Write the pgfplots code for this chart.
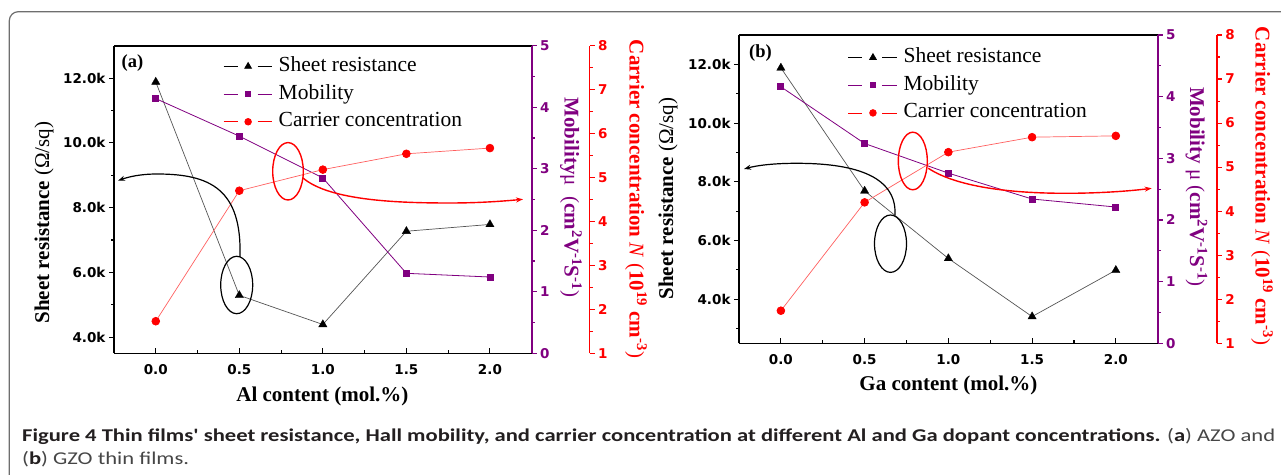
\documentclass[border=0pt]{standalone}
\usepackage{pgfplots}
\pgfplotsset{compat=1.18}
\usepackage{pgfplotstable}
\usepackage{fontspec}
\usepackage{graphicx}
\setmainfont{Liberation Serif}
\newfontfamily\tickfont{DejaVu Sans}
\newfontfamily\capfont{Carlito}
\usetikzlibrary{arrows.meta}
\definecolor{opurple}{RGB}{128,0,128}
\definecolor{ored}{RGB}{255,0,0}
\definecolor{sheetline}{RGB}{85,85,85}
\definecolor{carrline}{RGB}{255,95,95}
\definecolor{framegray}{RGB}{110,110,110}
\definecolor{capdark}{RGB}{35,31,32}
\definecolor{capgray}{RGB}{70,70,70}

\pgfplotstableread{
x sheet mob carr
0.0 11880 4.14 1.73
0.5 5290 3.53 4.70
1.0 4390 2.85 5.18
1.5 7270 1.30 5.54
2.0 7480 1.24 5.67
}\dataA
\pgfplotstableread{
x sheet mob carr
0.0 11880 4.16 1.74
0.5 7690 3.24 4.20
1.0 5390 2.76 5.34
1.5 3410 2.34 5.68
2.0 4990 2.21 5.71
}\dataB

\pgfplotsset{
  base/.style={scale only axis, anchor=south west,
    axis line style={line width=1.6pt},
    every tick/.style={line width=1.1pt},
    major tick length=5pt, minor tick length=3pt,
    tick label style={font=\tickfont\bfseries\fontsize{13.5}{15}\selectfont},
    clip=false},
  mainax/.style={base, xmin=-0.25, xmax=2.25,
    axis x line*=box, axis y line*=left,
    xtick pos=left, ytick pos=left,
    xtick align=inside, ytick align=outside,
    scaled y ticks=false,
    xtick={0,0.5,1,1.5,2}, xticklabels={0.0,0.5,1.0,1.5,2.0},
    minor xtick={0.25,0.75,1.25,1.75},
    xticklabel style={yshift=-8pt},
    legend cell align=left,
    legend image code/.code={
      \draw[##1,mark=none] (0pt,0pt) -- (14pt,0pt);
      \draw[##1,mark=none] (34pt,0pt) -- (48.7pt,0pt);
      \draw[##1] plot coordinates {(24.5pt,0pt)};
    },
  },
  mobax/.style={base, hide x axis, axis y line*=right,
    ymin=0, ymax=5, ytick={0,1,2,3,4,5}, yticklabels={0,1,2,3,4,5},
    minor ytick={0.5,1.5,2.5,3.5,4.5}, ytick align=outside,
    axis line style={opurple, line width=1.6pt},
    every tick/.style={opurple, line width=1.1pt},
    yticklabel style={opurple}},
  carrax/.style={base, hide x axis, axis y line*=right,
    ymin=1, ymax=8, ytick={1,2,3,4,5,6,7,8}, yticklabels={1,2,3,4,5,6,7,8},
    minor ytick={1.5,2.5,3.5,4.5,5.5,6.5,7.5}, ytick align=outside,
    axis line style={ored, line width=1.6pt},
    every tick/.style={ored, line width=1.1pt},
    yticklabel style={ored}},
  sheetplot/.style={sheetline, line width=0.7pt, mark=triangle*, mark size=4.8pt, mark options={black, fill=black, line width=0.3pt}},
  mobplot/.style={opurple, line width=0.8pt, mark=square*, mark size=3pt, mark options={opurple, fill=opurple}},
  carrplot/.style={carrline, line width=0.7pt, mark=*, mark size=3.9pt, mark options={ored, fill=ored}},
  legsheet/.style={black, line width=0.8pt, mark=triangle*, mark size=3.8pt, mark options={fill=black}},
  legmob/.style={opurple, line width=0.8pt, mark=square*, mark size=2.5pt, mark options={fill=opurple}},
  legcarr/.style={ored, line width=0.8pt, mark=*, mark size=3.3pt, mark options={fill=ored}},
}

\newsavebox\capone
\begin{document}
\sbox\capone{\capfont\fontsize{18}{21}\selectfont\color{capgray}{\color{capdark}\bfseries Figure 4 Thin films' sheet resistance, Hall mobility, and carrier concentration at different Al and Ga dopant concentrations.} ({\color{capdark}\bfseries a}) AZO and}%
\pgfmathsetmacro\capsx{1253/\wd\capone}%
\begin{tikzpicture}
\useasboundingbox (0pt,0pt) rectangle (1281pt,474pt);
% frame
\draw[framegray, line width=1.2pt, rounded corners=9pt] (9.3pt,-5pt) -- (9.3pt,462.3pt) -- (1290pt,462.3pt);

%%%%%%%%%%%%%%%% Panel (a)
\begin{axis}[mainax, at={(114pt,120.7pt)}, width=417.7pt, height=307.6pt,
  ymin=3500, ymax=13000,
  ytick={4000,6000,8000,10000,12000}, yticklabels={4.0k,6.0k,8.0k,10.0k,12.0k},
  minor ytick={5000,7000,9000,11000},
  legend style={at={(0.261,0.966)}, anchor=north west, draw=none, fill=none, inner sep=0pt,
    column sep=6pt, row sep=7.7pt, font=\fontsize{21.5}{24}\selectfont,
    nodes={inner sep=0pt, text height=15pt, text depth=5pt}}]
\addlegendimage{legsheet}
\addlegendimage{legmob}
\addlegendimage{legcarr}
\addplot[sheetplot, forget plot] table[x=x, y=sheet] {\dataA};
\legend{Sheet resistance, Mobility, Carrier concentration}
\end{axis}
\begin{axis}[mobax, at={(114pt,120.7pt)}, width=417.7pt, height=307.6pt, xmin=-0.25, xmax=2.25]
\addplot[mobplot] table[x=x, y=mob] {\dataA};
\end{axis}
\begin{axis}[carrax, at={(114pt,120.7pt)}, width=475.5pt, height=307.6pt, xmin=-0.25, xmax=2.596]
\addplot[carrplot] table[x=x, y=carr] {\dataA};
\end{axis}

%%%%%%%%%%%%%%%% Panel (b)
\begin{axis}[mainax, at={(739pt,130.7pt)}, width=418.7pt, height=308.3pt,
  ymin=2500, ymax=13000,
  ytick={4000,6000,8000,10000,12000}, yticklabels={4.0k,6.0k,8.0k,10.0k,12.0k},
  minor ytick={3000,5000,7000,9000,11000},
  legend style={at={(0.260,0.960)}, anchor=north west, draw=none, fill=none, inner sep=0pt,
    column sep=6pt, row sep=7.7pt, font=\fontsize{21.5}{24}\selectfont,
    nodes={inner sep=0pt, text height=15pt, text depth=5pt}}]
\addlegendimage{legsheet}
\addlegendimage{legmob}
\addlegendimage{legcarr}
\addplot[sheetplot, forget plot] table[x=x, y=sheet] {\dataB};
\legend{Sheet resistance, Mobility, Carrier concentration}
\end{axis}
\begin{axis}[mobax, at={(739pt,130.7pt)}, width=418.7pt, height=308.3pt, xmin=-0.25, xmax=2.25]
\addplot[mobplot] table[x=x, y=mob] {\dataB};
\end{axis}
\begin{axis}[carrax, at={(739pt,130.7pt)}, width=477.8pt, height=308.3pt, xmin=-0.25, xmax=2.603]
\addplot[carrplot] table[x=x, y=carr] {\dataB};
\end{axis}

%%%%%%%%%%%%%%%% annotations (a)
\draw[black, line width=1.2pt] (236.7pt,189pt) ellipse [x radius=16pt, y radius=28.7pt];
\draw[ored, line width=1.4pt] (288pt,302.7pt) ellipse [x radius=15.3pt, y radius=28.7pt];
\draw[black, line width=1.2pt, -{Stealth[length=7pt,width=5pt]}] (240pt,217pt) .. controls (242pt,285pt) and (210pt,300pt) .. (157pt,300pt) .. controls (140pt,300pt) and (128pt,297pt) .. (118pt,293.3pt);
\draw[ored, line width=1.4pt, -{Stealth[length=7pt,width=5pt]}] (303pt,296pt) .. controls (330pt,273pt) and (400pt,271pt) .. (450pt,271pt) .. controls (480pt,271pt) and (505pt,273pt) .. (523pt,274.7pt);
%%%%%%%%%%%%%%%% annotations (b)
\draw[black, line width=1.2pt] (890.5pt,230.3pt) ellipse [x radius=16pt, y radius=28.7pt];
\draw[ored, line width=1.4pt] (912.8pt,313pt) ellipse [x radius=14.5pt, y radius=28.8pt];
\draw[black, line width=1.2pt, -{Stealth[length=7pt,width=5pt]}] (895pt,259pt) .. controls (897pt,300pt) and (850pt,310.7pt) .. (796.7pt,310.7pt) .. controls (770pt,310.7pt) and (755pt,308pt) .. (744pt,305pt);
\draw[ored, line width=1.4pt, -{Stealth[length=7pt,width=5pt]}] (928.3pt,305.7pt) .. controls (960pt,285pt) and (1020pt,280.7pt) .. (1066pt,280.7pt) .. controls (1100pt,280.7pt) and (1130pt,283pt) .. (1151.7pt,285.7pt);

%%%%%%%%%%%%%%%% labels (a)
\node[font=\bfseries\fontsize{18.5}{20}\selectfont] at (132.5pt,410.7pt) {(a)};
\node[rotate=90, font=\fontsize{21}{24}\selectfont] at (44pt,251.5pt) {\textbf{Sheet resistance} (Ω/sq)};
\node[font=\bfseries\fontsize{21}{24}\selectfont] at (322.4pt,77.3pt) {Al content (mol.\%)};
\node[rotate=-90, opurple, font=\fontsize{21}{24}\selectfont] at (571pt,276.5pt) {\textbf{Mobility}μ \ (\textbf{cm\textsuperscript{2}V\textsuperscript{-1}S\textsuperscript{-1}})};
\node[rotate=-90, ored, font=\fontsize{21}{24}\selectfont] at (636pt,275pt) {\textbf{Carrier concentration} \textit{N} (\textbf{10\textsuperscript{19} cm\textsuperscript{-3}})};
%%%%%%%%%%%%%%%% labels (b)
\node[font=\bfseries\fontsize{18.5}{20}\selectfont] at (760.5pt,421pt) {(b)};
\node[rotate=90, font=\fontsize{21}{24}\selectfont] at (668pt,275.5pt) {\textbf{Sheet resistance} (Ω/sq)};
\node[font=\bfseries\fontsize{21}{24}\selectfont] at (948.4pt,88.3pt) {Ga content (mol.\%)};
\node[rotate=-90, opurple, font=\fontsize{21}{24}\selectfont] at (1196.5pt,287pt) {\textbf{Mobility} μ (\textbf{cm\textsuperscript{2}V\textsuperscript{-1}S\textsuperscript{-1}})};
\node[rotate=-90, ored, font=\fontsize{21}{24}\selectfont] at (1262pt,288pt) {\textbf{Carrier concentration} \textit{N} (\textbf{10\textsuperscript{19} cm\textsuperscript{-3}})};

%%%%%%%%%%%%%%%% caption
\node[anchor=base west, inner sep=0pt] at (22pt,33pt) {\scalebox{\capsx}[1]{\usebox\capone}};
\node[anchor=base west, inner sep=0pt] at (22pt,10pt) {\scalebox{\capsx}[1]{\capfont\fontsize{18}{21}\selectfont\color{capgray}({\color{capdark}\bfseries b}) GZO thin films.}};
\end{tikzpicture}
\end{document}
